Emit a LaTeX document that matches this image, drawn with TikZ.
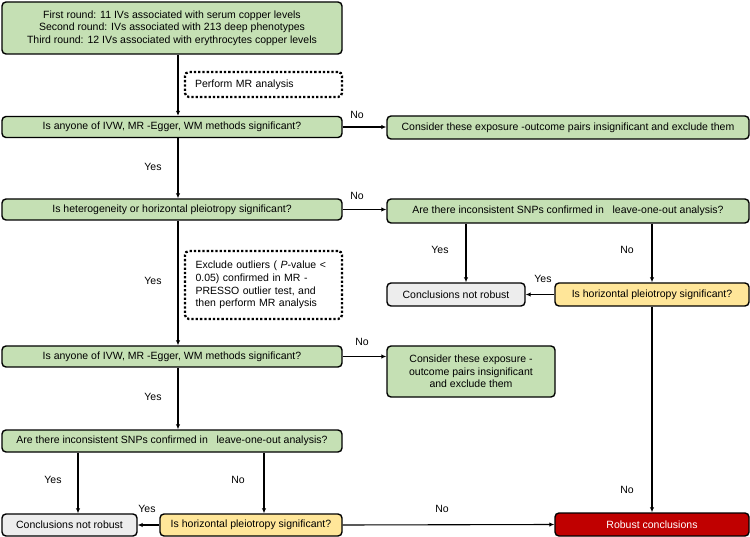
\documentclass[tikz,border=0pt]{standalone}
\usepackage{fontspec}
\setmainfont{Liberation Sans}
\usetikzlibrary{arrows.meta,calc}
\definecolor{gfill}{RGB}{197,224,180}
\definecolor{yfill}{RGB}{255,230,153}
\definecolor{nfill}{RGB}{237,237,237}
\definecolor{rfill}{RGB}{192,0,0}
\begin{document}
\begin{tikzpicture}[x=1pt,y=-1pt,
  every node/.style={font=\fontsize{10.5}{12.5}\selectfont, inner sep=0pt},
  box/.style={draw=black, line width=1.4pt, rounded corners=4pt, align=center},
  gbox/.style={box, fill=gfill},
  ybox/.style={box, fill=yfill},
  nbox/.style={box, fill=nfill},
  rbox/.style={box, fill=rfill, text=white},
  note/.style={draw=black, line width=2.3pt, dotted, rounded corners=4pt, align=left},
  arr/.style={-{Latex[length=5pt,width=4.5pt]}, line width=1.1pt},
  lbl/.style={font=\fontsize{10.5}{12.5}\selectfont}
]
\useasboundingbox (0,0) rectangle (750,537);
\newcommand{\bx}[6]{\node[#1, minimum width=#4, minimum height=#5] (#2) at (#3) {#6};}
\bx{gbox}{top}{172,28}{340}{52}{First round: 11 IVs associated with serum copper levels\\Second round: IVs associated with 213 deep phenotypes\\Third round: 12 IVs associated with erythrocytes copper levels}
\node[note, minimum width=157, minimum height=25, text width=137] (mr) at (263.5,84.5) {Perform MR analysis};
\bx{gbox}{q1}{172,127}{340}{21}{Is anyone of IVW, MR -Egger, WM methods significant?}
\bx{gbox}{c1}{568,127.5}{362}{23}{Consider these exposure -outcome pairs insignificant and exclude them}
\bx{gbox}{q2}{172,209.5}{340}{21}{Is heterogeneity or horizontal pleiotropy significant?}
\bx{gbox}{s1}{568,211}{362}{24}{Are there inconsistent SNPs confirmed in \ \ leave-one-out analysis?}
\bx{nbox}{cnr1}{456,294.5}{138}{23}{Conclusions not robust}
\bx{ybox}{hp1}{652,294.5}{194}{23}{Is horizontal pleiotropy significant?}
\node[note, minimum width=157, minimum height=68, text width=136, font=\fontsize{10.5}{12.7}\selectfont] (ex) at (263.5,285) {Exclude outliers ( \textit{P}-value <\\0.05) confirmed in MR -\\PRESSO outlier test, and\\then perform MR analysis};
\bx{gbox}{q3}{172,356.5}{340}{21}{Is anyone of IVW, MR -Egger, WM methods significant?}
\bx{gbox}{c2}{471,371.5}{168}{51}{Consider these exposure -\\outcome pairs insignificant\\and exclude them}
\bx{gbox}{q4}{172,441}{340}{22}{Are there inconsistent SNPs confirmed in \ \ leave-one-out analysis?}
\bx{nbox}{cnr2}{69.5,525}{135}{22}{Conclusions not robust}
\bx{ybox}{hp2}{251,525}{182}{22}{Is horizontal pleiotropy significant?}
\bx{rbox}{rob}{652,524.5}{194}{23}{Robust conclusions}

\coordinate (tx) at (178,0);
\coordinate (ax) at (466,0);
\coordinate (bx) at (78,0);
\coordinate (cx) at (264,0);

\draw[arr] (top.south -| tx) -- (q1.north -| tx);
\draw[arr] (q1.east) -- (q1.east -| c1.west);
\draw[arr] (q1.south -| tx) -- (q2.north -| tx);
\draw[arr] (q2.east) -- (q2.east -| s1.west);
\draw[arr] (q2.south -| tx) -- (q3.north -| tx);
\draw[arr] (q3.east) -- (q3.east -| c2.west);
\draw[arr] (q3.south -| tx) -- (q4.north -| tx);
\draw[arr] (s1.south -| ax) -- (cnr1.north -| ax);
\draw[arr] (s1.south -| hp1) -- (hp1.north);
\draw[arr] (hp1.west) -- (cnr1.east);
\draw[arr] (hp1.south) -- (rob.north);
\draw[arr] (q4.south -| bx) -- (cnr2.north -| bx);
\draw[arr] (q4.south -| cx) -- (hp2.north -| cx);
\draw[arr] (hp2.west) -- (cnr2.east);
\draw[arr] (hp2.east) -- (rob.west);

\node[lbl] (l1) at (357,115) {No};
\node[lbl] (l2) at (153,167) {Yes};
\node[lbl] (l3) at (357,196) {No};
\node[lbl] (l4) at (153,281) {Yes};
\node[lbl] (l5) at (440,250) {Yes};
\node[lbl] (l6) at (627,250) {No};
\node[lbl] (l7) at (543,279) {Yes};
\node[lbl] (l8) at (362,342) {No};
\node[lbl] (l9) at (153,397) {Yes};
\node[lbl] (l10) at (627,490) {No};
\node[lbl] (l11) at (53,480) {Yes};
\node[lbl] (l12) at (238,480) {No};
\node[lbl] (l13) at (147,509) {Yes};
\node[lbl] (l14) at (442,509) {No};
\end{tikzpicture}
\end{document}
